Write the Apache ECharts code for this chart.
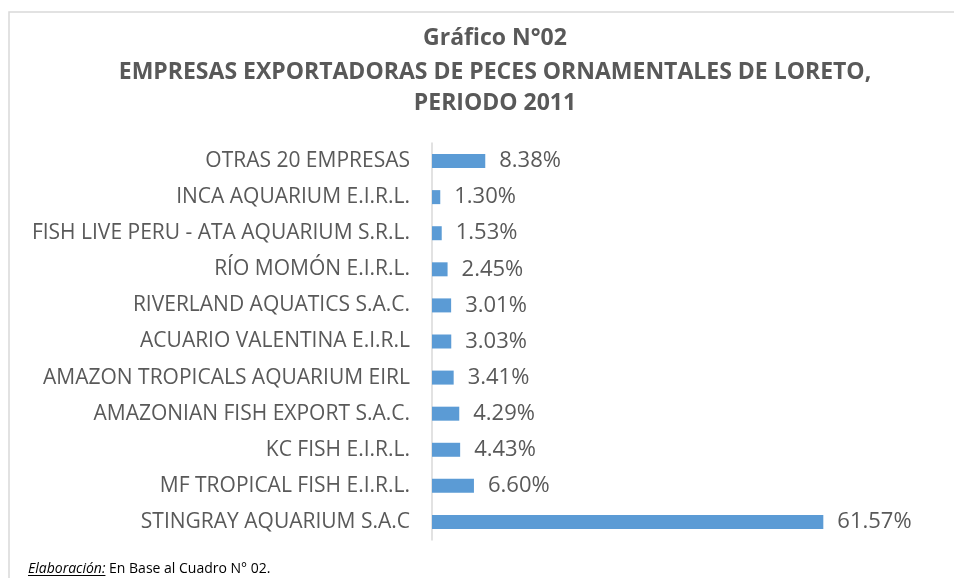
<!DOCTYPE html>
<html><head><meta charset="utf-8">
<script src="https://cdn.jsdelivr.net/npm/echarts@6/dist/echarts.min.js"></script>
<style>html,body{margin:0;padding:0;background:#fff}#c{width:954px;height:578px}</style>
</head><body><div id="c"></div>
<script>
const categories = [
  "OTRAS 20 EMPRESAS",
  "INCA AQUARIUM E.I.R.L.",
  "FISH LIVE PERU - ATA AQUARIUM S.R.L.",
  "RÍO MOMÓN E.I.R.L.",
  "RIVERLAND AQUATICS S.A.C.",
  "ACUARIO VALENTINA E.I.R.L",
  "AMAZON TROPICALS AQUARIUM EIRL",
  "AMAZONIAN FISH EXPORT S.A.C.",
  "KC FISH E.I.R.L.",
  "MF TROPICAL FISH E.I.R.L.",
  "STINGRAY AQUARIUM S.A.C"
];
const shares = [8.38, 1.30, 1.53, 2.45, 3.01, 3.03, 3.41, 4.29, 4.43, 6.60, 61.57];
const titleLines = ["Gráfico N°02", "EMPRESAS EXPORTADORAS DE PECES ORNAMENTALES DE LORETO,", "PERIODO 2011"];
const sourceNote = ["Elaboración:", " En Base al Cuadro N° 02."];

const FONT = '"Open Sans", sans-serif';
const footFontIt = 'italic 14px "Open Sans"';
const footFont = '14px "Open Sans"';
const mctx = document.createElement('canvas').getContext('2d');
mctx.font = footFontIt;
const itW = mctx.measureText(sourceNote[0]).width;

const chart = echarts.init(document.getElementById('c'), null, {renderer: 'canvas'});
const titleY = [38, 72, 103];
chart.setOption({
  backgroundColor: '#fff',
  animation: false,
  grid: {left: 432, top: 143, height: 397, width: 444.9, containLabel: false},
  xAxis: {type: 'value', min: 0, max: 70, show: false},
  yAxis: {
    type: 'category', data: categories, inverse: true,
    axisLine: {show: true, lineStyle: {color: '#d9d9d9', width: 1.5}},
    axisTick: {show: false},
    axisLabel: {fontFamily: FONT, fontSize: 21, color: '#595959', margin: 22}
  },
  series: [{
    type: 'bar', data: shares, barWidth: 14,
    itemStyle: {color: '#5b9bd5'},
    label: {show: true, position: 'right', distance: 14, fontFamily: FONT, fontSize: 22, color: '#595959',
      formatter: p => p.value.toFixed(2) + '%'}
  }],
  graphic: [
    {type: 'rect', shape: {x: 9, y: 12, width: 1000, height: 700}, style: {fill: 'none', stroke: '#d9d9d9', lineWidth: 1.5}, silent: true},
    ...titleLines.map((t, i) => ({type: 'text', x: 495, y: titleY[i],
      style: {text: t, font: 'bold 23px "Open Sans"', fill: '#595959', align: 'center', verticalAlign: 'middle', textAlign: 'center', textVerticalAlign: 'middle'}})),
    {type: 'text', x: 28, y: 569, style: {text: sourceNote[0], font: footFontIt, fill: '#000', verticalAlign: 'middle', textVerticalAlign: 'middle'}},
    {type: 'text', x: 28 + itW, y: 569, style: {text: sourceNote[1], font: footFont, fill: '#000', verticalAlign: 'middle', textVerticalAlign: 'middle'}},
    {type: 'line', shape: {x1: 28, y1: 575.5, x2: 28 + itW, y2: 575.5}, style: {stroke: '#000', lineWidth: 1}}
  ]
});
</script></body></html>
